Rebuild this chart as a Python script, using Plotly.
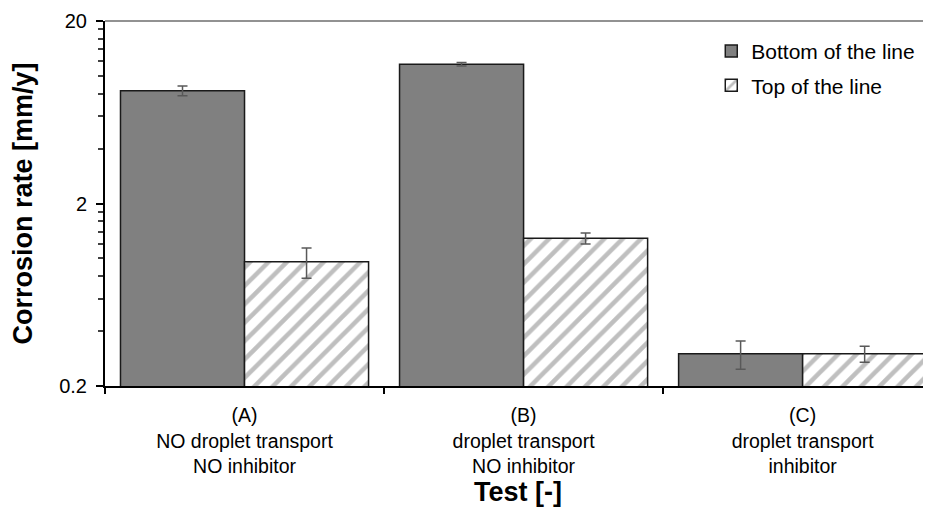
import plotly.graph_objects as go

categories = [
    "(A)<br>NO droplet transport<br>NO inhibitor",
    "(B)<br>droplet transport<br>NO inhibitor",
    "(C)<br>droplet transport<br>inhibitor",
]
bottom_vals = [8.3, 11.6, 0.30]
bottom_err = [0.5, 0.25, 0.053]
top_vals = [0.96, 1.29, 0.30]
top_err = [0.18, 0.09, 0.03]

y_ticks = [0.2, 2, 20]
y_ticktext = ["0.2", "2", "20"]
y_minor = [0.4, 0.6, 0.8, 1.0, 1.2, 1.4, 1.6, 1.8, 4, 6, 8, 10, 12, 14, 16, 18]

FONT = "Arial, Liberation Sans, sans-serif"

fig = go.Figure()
fig.add_trace(go.Bar(
    name="Bottom of the line", x=categories, y=bottom_vals,
    marker=dict(color="#808080", line=dict(color="#1a1a1a", width=1.5)),
    error_y=dict(type="data", array=bottom_err, color="#595959", thickness=1.5, width=5),
    legendgroup="a",
))
fig.add_trace(go.Bar(
    name="Top of the line", x=categories, y=top_vals,
    marker=dict(color="white", line=dict(color="#1a1a1a", width=1.5),
                pattern=dict(shape="/", fgcolor="#bfbfbf", bgcolor="white",
                             size=13, solidity=0.35, fillmode="replace")),
    error_y=dict(type="data", array=top_err, color="#595959", thickness=1.5, width=5),
    legendgroup="b",
))

fig.update_layout(
    width=923, height=500,
    margin=dict(l=97, r=0, t=13, b=122),
    plot_bgcolor="white", paper_bgcolor="white",
    font=dict(family=FONT, color="#000000"),
    barmode="group", bargap=0.111, bargroupgap=0,
    showlegend=True,
    legend=dict(x=0.734, y=0.973, xanchor="left", yanchor="top",
                font=dict(size=21, family=FONT), tracegroupgap=4,
                bgcolor="rgba(0,0,0,0)"),
    xaxis=dict(
        range=[-0.5, 2.46], showline=True, linecolor="#000000", linewidth=2,
        ticks="outside", tickson="boundaries", ticklen=6, tickwidth=1.5, tickcolor="#000000",
        tickfont=dict(size=19.5, family=FONT), ticklabelstandoff=11,
        title=dict(text="<b>Test [-]</b>", font=dict(size=27, family=FONT), standoff=5),
        showgrid=False, zeroline=False,
    ),
    yaxis=dict(
        type="log", range=[-0.69897000433, 1.30102999566],
        tickmode="array", tickvals=y_ticks, ticktext=y_ticktext,
        showline=True, linecolor="#000000", linewidth=2,
        ticks="outside", ticklen=7, tickwidth=1.5, tickcolor="#000000",
        tickfont=dict(size=20, family=FONT), ticklabelstandoff=5,
        minor=dict(tickmode="array", tickvals=y_minor, ticks="outside", ticklen=5,
                   tickwidth=1.5, tickcolor="#404040", showgrid=False),
        title=dict(text="<b>Corrosion rate [mm/y]</b>", font=dict(size=27, family=FONT), standoff=20),
        showgrid=False, zeroline=False,
    ),
    shapes=[dict(type="line", xref="paper", yref="paper", x0=0, x1=1, y0=1, y1=1,
                 line=dict(color="#6e6e6e", width=1.5))],
)

fig.write_html("out.html")
